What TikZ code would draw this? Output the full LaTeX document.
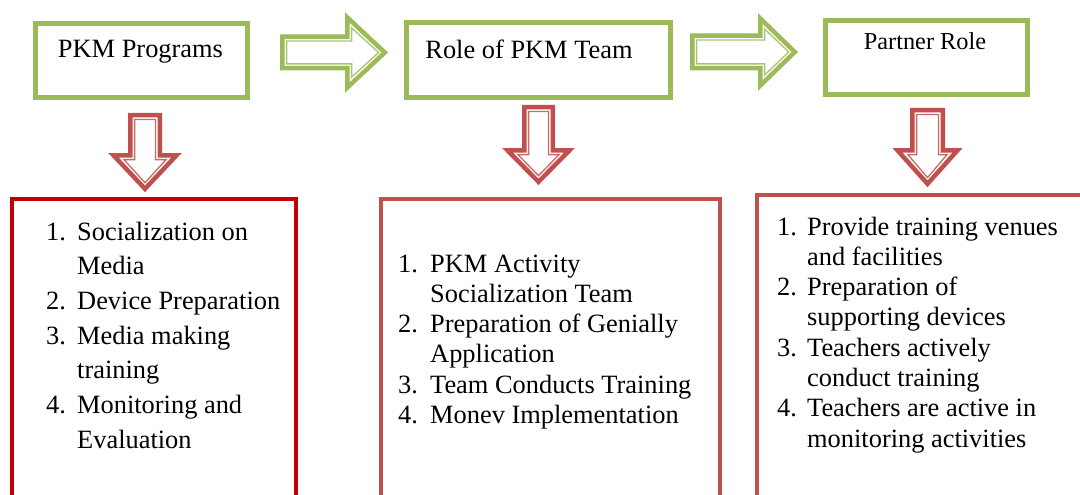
\documentclass[tikz,border=0pt]{standalone}
\usepackage{fontspec}
\setmainfont{Liberation Serif}
\definecolor{ggreen}{HTML}{9BBB59}
\definecolor{gred}{HTML}{C0504D}
\definecolor{dred}{HTML}{C00000}
% right block arrow: x0 x1 x2 cy h H inset style
\newcommand\rblock[8]{%
 \draw[#8] ({#1+#7},{#4-#5+#7}) -- ({#2+#7},{#4-#5+#7}) -- ({#2+#7},{#4-#6+2.414*#7})
  -- ({#3-1.414*#7},#4) -- ({#2+#7},{#4+#6-2.414*#7}) -- ({#2+#7},{#4+#5-#7})
  -- ({#1+#7},{#4+#5-#7}) -- cycle;}
% down block arrow: cx y0 y1 y2 w W inset style
\newcommand\dblock[8]{%
 \draw[#8] ({#1-#5+#7},{#2+#7}) -- ({#1+#5-#7},{#2+#7}) -- ({#1+#5-#7},{#3+#7})
  -- ({#1+#6-2.414*#7},{#3+#7}) -- (#1,{#4-1.414*#7}) -- ({#1-#6+2.414*#7},{#3+#7})
  -- ({#1-#5+#7},{#3+#7}) -- cycle;}
\begin{document}
\begin{tikzpicture}[x=1pt,y=-1pt,
  gbox/.style={draw=ggreen,line width=5pt,fill=white,inner sep=0pt},
  head/.style={anchor=base,inner sep=0pt,font=\fontsize{26.4}{30}\selectfont},
  gband/.style={draw=ggreen,line width=4.5pt,line join=miter},
  gthin/.style={draw=ggreen!85,line width=1.3pt,line join=miter},
  rband/.style={draw=gred,line width=4.5pt,line join=miter},
  rthin/.style={draw=gred!85,line width=1.3pt,line join=miter},
  frameA/.style={draw=dred,line width=4pt},
  frameB/.style={draw=gred,line width=4pt},
  listA/.style={anchor=base west,inner sep=0pt,font=\fontsize{26.4}{34.7}\selectfont},
  listB/.style={anchor=base west,inner sep=0pt,font=\fontsize{26.4}{30.3}\selectfont}]
\useasboundingbox (0,0) rectangle (1080,495);
\clip (0,0) rectangle (1080,495);
\fill[white] (0,0) rectangle (1080,495);

% green header boxes
\node[gbox,minimum width=212pt,minimum height=74pt] (b1) at (141.5,60.5) {};
\node[gbox,minimum width=264pt,minimum height=75pt] (b2) at (538.5,60) {};
\node[gbox,minimum width=202pt,minimum height=74pt] (b3) at (926.5,57.5) {};
\node[head] (t1) at (140.5,58) {PKM Programs};
\node[head] (t2) at (529,59) {Role of PKM Team};
\node[head,font=\fontsize{24.3}{28}\selectfont] (t3) at (925,50) {Partner Role};

% green block arrows
\rblock{280}{345}{388}{52.5}{18}{40.5}{2.25}{gband}
\rblock{280}{345}{388}{52.5}{18}{40.5}{6.6}{gthin}
\rblock{690}{758}{798}{52}{18.5}{39}{2.25}{gband}
\rblock{690}{758}{798}{52}{18.5}{39}{6.6}{gthin}

% red block arrows
\dblock{145}{113}{153}{192}{17}{37}{2.25}{rband}
\dblock{145}{113}{153}{192}{17}{37}{6.6}{rthin}
\dblock{538.5}{105}{148}{185}{16.5}{36.5}{2.25}{rband}
\dblock{538.5}{105}{148}{185}{16.5}{36.5}{6.6}{rthin}
\dblock{927.5}{108}{148}{187}{17.5}{35.5}{2.25}{rband}
\dblock{927.5}{108}{148}{187}{17.5}{35.5}{6.6}{rthin}

% red list frames
\draw[frameA] (12,505) -- (12,199) -- (296,199) -- (296,505);
\draw[frameB] (381,505) -- (381,199) -- (720,199) -- (720,505);
\draw[frameB] (757,505) -- (757,195) -- (1090,195);

% lists
\node[listA] (l1) at (46,240) {\begin{tabular}[t]{@{}l@{}l@{}}
\makebox[31pt][l]{1.} & Socialization on\\
 & Media\\
\makebox[31pt][l]{2.} & Device Preparation\\
\makebox[31pt][l]{3.} & Media making\\
 & training\\
\makebox[31pt][l]{4.} & Monitoring and\\
 & Evaluation
\end{tabular}};
\node[listB] (l2) at (398,272) {\begin{tabular}[t]{@{}l@{}l@{}}
\makebox[32pt][l]{1.} & PKM Activity\\
 & Socialization Team\\
\makebox[32pt][l]{2.} & Preparation of Genially\\
 & Application\\
\makebox[32pt][l]{3.} & Team Conducts Training\\
\makebox[32pt][l]{4.} & Monev Implementation
\end{tabular}};
\node[listB] (l3) at (777,235) {\begin{tabular}[t]{@{}l@{}l@{}}
\makebox[30pt][l]{1.} & Provide training venues\\
 & and facilities\\
\makebox[30pt][l]{2.} & Preparation of\\
 & supporting devices\\
\makebox[30pt][l]{3.} & Teachers actively\\
 & conduct training\\
\makebox[30pt][l]{4.} & Teachers are active in\\
 & monitoring activities
\end{tabular}};
\end{tikzpicture}
\end{document}
